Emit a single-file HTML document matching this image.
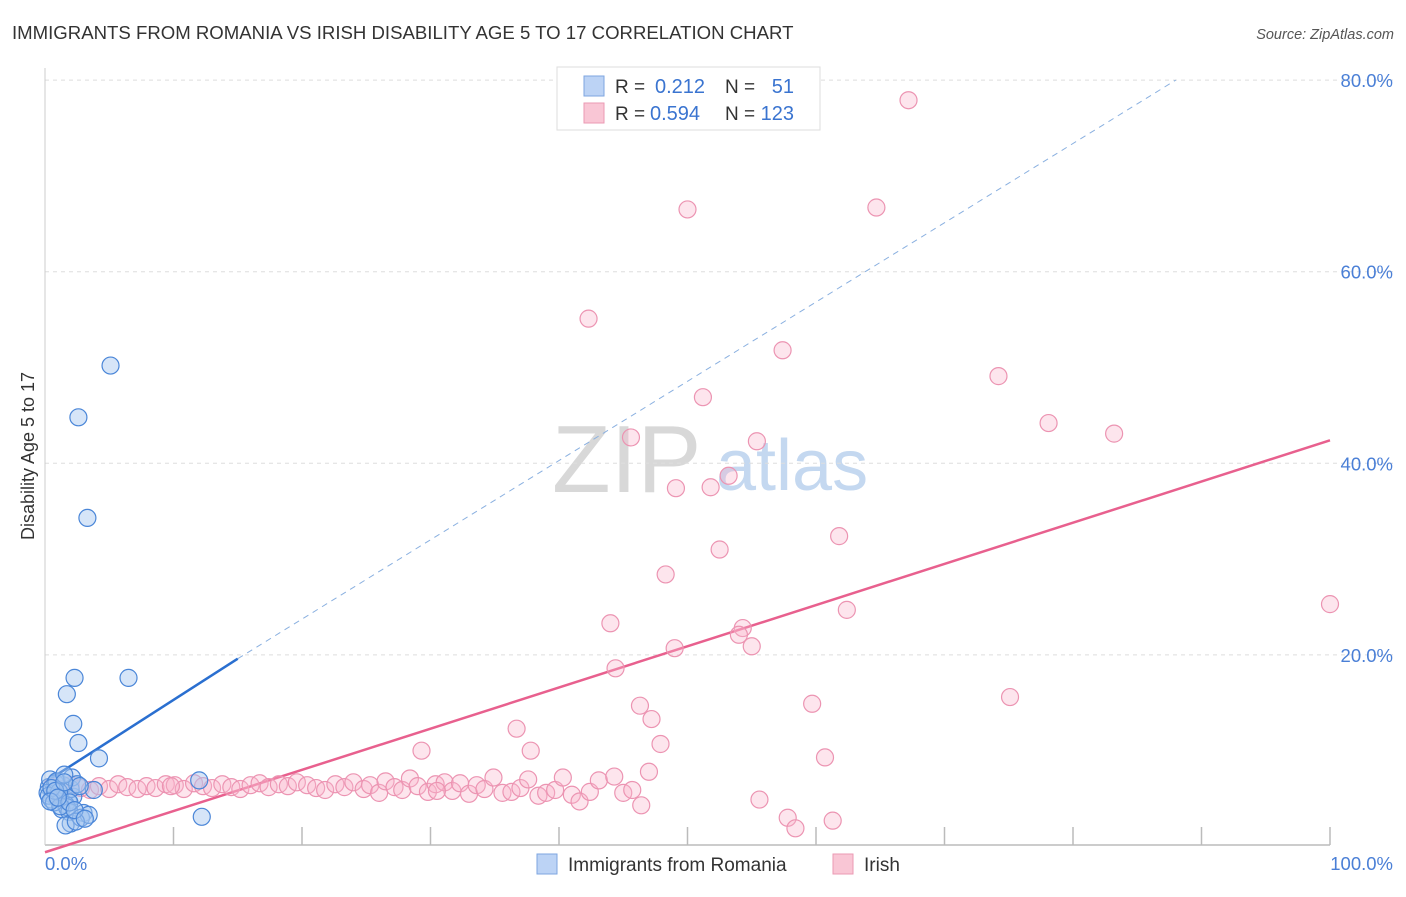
<!DOCTYPE html>
<html><head><meta charset="utf-8">
<style>
body{margin:0;background:#fff;font-family:"Liberation Sans",sans-serif;}
svg text{font-family:"Liberation Sans",sans-serif;}
</style></head>
<body>
<svg id="chart" width="1406" height="892" xmlns="http://www.w3.org/2000/svg">
<text x="12" y="39" font-size="18.6" fill="#333">IMMIGRANTS FROM ROMANIA VS IRISH DISABILITY AGE 5 TO 17 CORRELATION CHART</text>
<text x="1394" y="39" font-size="14.5" fill="#555" font-style="italic" text-anchor="end">Source: ZipAtlas.com</text>
<g>
<text x="552" y="492" font-size="96" font-family="Liberation Serif" fill="#d8d8d8">ZIP</text>
<text x="716" y="490" font-size="72" fill="#c4d8f0">atlas</text>
</g>
<g id="grid"></g>
<g id="axes"></g>
<g id="lines"></g>
<g id="pts"></g>
<text transform="translate(34,456) rotate(-90)" font-size="18" fill="#333" text-anchor="middle">Disability Age 5 to 17</text>
<g>
<rect x="557" y="67" width="263" height="63" fill="#fff" stroke="#ddd"/>
<rect x="584" y="76" width="20" height="20" fill="#bcd3f5" stroke="#7ea6e0"/>
<rect x="584" y="103" width="20" height="20" fill="#f9c6d5" stroke="#eb9ab3"/>
<text x="615" y="93" font-size="19" fill="#333">R =</text>
<text x="655" y="93" font-size="20" fill="#3a74d0">0.212</text>
<text x="725" y="93" font-size="19" fill="#333">N =</text>
<text x="794" y="93" font-size="20" fill="#3a74d0" text-anchor="end">51</text>
<text x="615" y="120" font-size="19" fill="#333">R =</text>
<text x="650" y="120" font-size="20" fill="#3a74d0">0.594</text>
<text x="725" y="120" font-size="19" fill="#333">N =</text>
<text x="794" y="120" font-size="20" fill="#3a74d0" text-anchor="end">123</text>
</g>
<g>
<rect x="537" y="854" width="20" height="20" fill="#bcd3f5" stroke="#7ea6e0"/>
<text x="568" y="871" font-size="19" fill="#333">Immigrants from Romania</text>
<rect x="833" y="854" width="20" height="20" fill="#f9c6d5" stroke="#eb9ab3"/>
<text x="864" y="871" font-size="19" fill="#333">Irish</text>
</g>
</svg>
<script>
const yTicks=[20,40,60,80];
const yTickLabels=["20.0%","40.0%","60.0%","80.0%"];
const xTickLabels=["0.0%","100.0%"];
const blueX=[5.1,2.6,3.3,2.3,6.5,1.7,2.2,2.6,4.2,12.2,12.0,0.3,0.6,1.0,1.4,1.8,2.2,0.4,0.8,1.2,1.6,2.0,0.2,0.5,0.9,1.3,1.7,2.1,2.5,3.0,0.3,0.7,1.1,1.5,1.9,0.5,1.2,2.0,2.8,3.4,1.6,2.4,0.8,1.9,3.8,2.7,0.4,1.0,1.5,2.3,3.1];
const blueY=[50.2,44.8,34.3,17.6,17.6,15.9,12.8,10.8,9.2,3.1,6.9,6.2,5.4,5.9,6.4,4.8,5.2,7.0,6.6,5.0,4.4,6.0,5.6,4.9,6.8,3.9,4.1,7.2,6.5,3.5,5.3,4.6,5.7,7.5,3.6,6.1,4.2,2.4,3.0,3.3,2.2,2.6,5.8,4.6,5.9,6.3,4.7,5.1,6.7,3.8,2.9];
const pinkX=[67.2,50.0,64.7,42.3,57.4,74.2,51.2,78.1,83.2,45.6,55.4,53.2,49.1,51.8,52.5,61.8,48.3,100,62.4,44.0,54.3,54.0,55.0,49.0,44.4,75.1,46.3,59.7,47.2,36.7,47.9,29.3,37.8,60.7,55.6,57.8,58.4,61.3,
0.5,1.2,2.0,2.8,3.5,4.2,5.0,5.7,6.4,7.2,7.9,8.6,9.4,10.1,10.8,11.6,12.3,13.0,13.8,14.5,15.2,16.0,16.7,17.4,18.2,18.9,19.6,20.4,21.1,21.8,22.6,23.3,24.0,24.8,25.3,26.0,26.5,27.2,27.8,28.4,29.0,29.8,30.4,31.1,31.7,32.3,33.0,33.6,34.2,34.9,35.6,36.3,37.0,37.6,38.4,39.0,39.7,40.3,41.0,41.6,42.4,43.1,44.3,45.0,45.7,46.4,47.0,9.8,30.5];
const pinkY=[77.9,66.5,66.7,55.1,51.8,49.1,46.9,44.2,43.1,42.7,42.3,38.7,37.4,37.5,31.0,32.4,28.4,25.3,24.7,23.3,22.8,22.1,20.9,20.7,18.6,15.6,14.7,14.9,13.3,12.3,10.7,10.0,10.0,9.3,4.9,3.0,1.9,2.7,
6.2,6.0,6.4,6.1,5.9,6.3,6.0,6.5,6.2,6.0,6.3,6.1,6.5,6.4,6.0,6.6,6.3,6.1,6.5,6.2,6.0,6.4,6.6,6.2,6.5,6.3,6.7,6.4,6.1,5.9,6.5,6.2,6.7,6.0,6.4,5.6,6.8,6.2,5.9,7.1,6.3,5.7,6.5,6.7,5.8,6.6,5.5,6.4,6.0,7.2,5.6,5.7,6.1,7.0,5.3,5.6,5.9,7.2,5.4,4.7,5.7,6.9,7.3,5.6,5.9,4.3,7.8,6.3,5.8,6.0,7.0,6.2,5.0];
const blueLine=[6.7,19.6,80.0];
const blueLineX=[0,15,88];
const pinkLine=[-0.6,42.4];
const pinkLineX=[0,100];

const X=v=>45+v*12.85, Y=v=>846.5-v*9.58;
const NS="http://www.w3.org/2000/svg";
function mk(tag,attrs,parent){const e=document.createElementNS(NS,tag);for(const k in attrs)e.setAttribute(k,attrs[k]);parent.appendChild(e);return e;}
const grid=document.getElementById('grid'),axes=document.getElementById('axes'),lines=document.getElementById('lines'),pts=document.getElementById('pts');
yTicks.forEach((t,i)=>{
 const l=mk('line',{x1:45,x2:1393,y1:Y(t),y2:Y(t),stroke:'#ddd','stroke-dasharray':'4,4'},grid);
 
 
 const tx=mk('text',{x:1393,y:Y(t)+7,'font-size':18.5,fill:'#4a7fd6','text-anchor':'end'},axes);
 tx.textContent=yTickLabels[i];
 
 
});
const xl=mk('line',{x1:45,x2:1330,y1:845,y2:845,stroke:'#bbb','stroke-width':1.5},axes);


const yl=mk('line',{x1:45,x2:45,y1:68,y2:845,stroke:'#ccc'},axes);


for(let i=1;i<=10;i++){const t=mk('line',{x1:X(i*10),x2:X(i*10),y1:827,y2:845,stroke:'#bbb','stroke-width':1.5},axes);
 
 }
const x0=mk('text',{x:45,y:870,'font-size':18.5,fill:'#4a7fd6'},axes);x0.textContent=xTickLabels[0];


const x1=mk('text',{x:1393,y:870,'font-size':18.5,fill:'#4a7fd6','text-anchor':'end'},axes);x1.textContent=xTickLabels[1];



pinkX.forEach((v,i)=>{const c=mk('circle',{cx:X(v),cy:Y(pinkY[i]),r:8.5,fill:'rgba(248,180,204,0.35)',stroke:'#ec94b2','stroke-width':1.2},pts);
 
 });
blueX.forEach((v,i)=>{const c=mk('circle',{cx:X(v),cy:Y(blueY[i]),r:8.5,fill:'rgba(165,198,240,0.45)',stroke:'#4a86d8','stroke-width':1.2},pts);
 
 });

const pl=mk('line',{x1:X(pinkLineX[0]),y1:Y(pinkLine[0]),x2:X(pinkLineX[1]),y2:Y(pinkLine[1]),stroke:'#e8608e','stroke-width':2.5},lines);


const bs=mk('line',{x1:X(blueLineX[0]),y1:Y(blueLine[0]),x2:X(blueLineX[1]),y2:Y(blueLine[1]),stroke:'#2a6fd0','stroke-width':2.5},lines);


const bd=mk('line',{x1:X(blueLineX[1]),y1:Y(blueLine[1]),x2:X(blueLineX[2]),y2:Y(blueLine[2]),stroke:'#8ab0e0','stroke-width':1,'stroke-dasharray':'6,5'},lines);


</script>
</body></html>
